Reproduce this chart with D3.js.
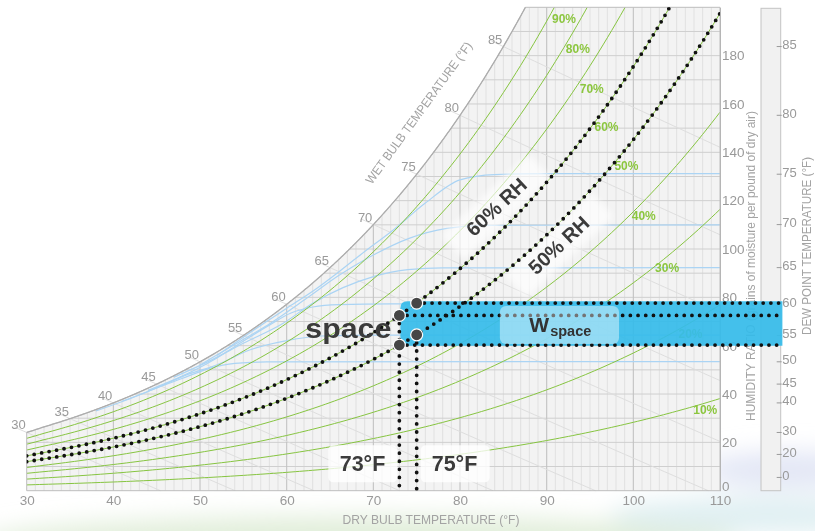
<!DOCTYPE html>
<html>
<head>
<meta charset="utf-8">
<script src="https://cdn.jsdelivr.net/npm/d3@7"></script>
<style>
  html, body { margin: 0; padding: 0; background: #fff; }
  svg { display: block; font-family: "Liberation Sans", Arial, sans-serif; }
</style>
</head>
<body>
<svg id="chart" width="815" height="531"></svg>
<script>
// ---- chart values -------------------------------------------------------
const dryBulbTicks   = [30, 40, 50, 60, 70, 80, 90, 100, 110];
const humidityTicks  = [0, 20, 40, 60, 80, 100, 120, 140, 160, 180];
const wetBulbTicks   = [30, 35, 40, 45, 50, 55, 60, 65, 70, 75, 80, 85];
const dewPointTicks  = [85, 80, 75, 70, 65, 60, 55, 50, 45, 40, 30, 20, 0];
const rhLevels       = [0.1, 0.2, 0.3, 0.4, 0.5, 0.6, 0.7, 0.8, 0.9];
const rhLabelText    = ["10%", "20%", "30%", "40%", "50%", "60%", "70%", "80%", "90%"];
const rhLabelT       = [108.3, 106.6, 103.9, 101.2, 99.2, 96.9, 95.2, 93.6, 92.0];   // °F
const rhLabelW       = [33.5, 65.0, 92.0, 113.8, 134.3, 150.4, 166.1, 182.9, 195.3]; // grains
const highlightRH    = [0.6, 0.5];
const highlightText  = ["60% RH", "50% RH"];
const highlightLabelT = [84.2, 91.4];
const highlightLabelW = [117.4, 101.6];
const spaceTemps     = [73, 75];
const spaceTempText  = ["73°F", "75°F"];
const bandEndT       = [117.2, 116.6, 117.2];   // top, middle, bottom dotted rows
const wBoxT          = [84.6, 98.35];           // W-space label box, °F
// light-blue constant dew point guide curves: [dry bulb °F, grains]
const dewCurve50 = [[38,33],[41.5,37.5],[45,42.5],[48,46.5],[51,50.5],[54,52.7],[58,53.3],[110,53.4]];
const dewCurve55 = [[41,37],[45,42.5],[48.5,48],[51.9,52],[55.8,58.3],[60,62.1],[64,64],[70,64.4],[110,64.4]];
const dewCurve60 = [[44,41.5],[48,47.5],[51.5,54],[54.6,61],[58,68.5],[60.5,73.5],[63,76],[66,77],[72,77.3],[110,77.3]];
const dewCurve65 = [[47,47],[51,53.5],[55,61],[59.6,69.3],[63,77.5],[66.5,84],[70,88.6],[74,91.5],[78,92.2],[110,92.3]];
const dewCurve70 = [[50,52],[54,60.5],[58,69],[62.3,79.6],[66,89],[70,97.5],[74.2,104.5],[78.5,108.5],[83,109.8],[110,110]];
const dewCurve75 = [[52,56],[56,66],[60,75.5],[63,82.5],[66,90.5],[69,99],[72.3,107.9],[76,119],[80,128.6],[84,130.8],[90,131.2],[110,131.2]];
const dewCurves  = [dewCurve50, dewCurve55, dewCurve60, dewCurve65, dewCurve70, dewCurve75];

// ---- psychrometrics (sea level) ----------------------------------------
const P_ATM = 101.325; // kPa
function pws(tF) {
  const c = (tF - 32) / 1.8;
  return c >= 0 ? 0.61094 * Math.exp(17.625 * c / (c + 243.04))
                : 0.61115 * Math.exp(22.452 * c / (c + 272.55));
}
const grains = pw => 7000 * 0.622 * pw / (P_ATM - pw);
const wRH = (t, rh) => grains(rh * pws(t));
const wSat = t => wRH(t, 1);
function wWetBulb(t, twb) {
  const ws = wSat(twb) / 7000;
  return 7000 * ((1093 - 0.556 * twb) * ws - 0.240 * (t - twb)) / (1093 + 0.444 * t - twb);
}

// ---- scales --------------------------------------------------------------
const W_MAX = 200;
const x = d3.scaleLinear().domain([30, 110]).range([26.7, 720]);
const y = d3.scaleLinear().domain([0, W_MAX]).range([490.7, 7.3]);
const line = d3.line().x(d => x(d[0])).y(d => y(d[1]));
const smooth = d3.line().x(d => x(d[0])).y(d => y(d[1])).curve(d3.curveMonotoneX);

// temperature where the saturation curve reaches the top of the chart
let lo = 30, hi = 110;
for (let i = 0; i < 60; i++) { const m = (lo + hi) / 2; if (wSat(m) < W_MAX) lo = m; else hi = m; }
const tTop = lo;
const satPts = d3.range(30, tTop, 0.1).map(t => [t, wSat(t)]).concat([[tTop, W_MAX]]);
const outline = [[30, 0]].concat(satPts, [[110, W_MAX], [110, 0]]);

const svg = d3.select("#chart");
const defs = svg.append("defs");
defs.append("clipPath").attr("id", "plotClip")
  .append("path").attr("d", line(outline) + "Z");
const soft = defs.append("filter").attr("id", "soft")
  .attr("x", "-50%").attr("y", "-50%").attr("width", "200%").attr("height", "200%");
soft.append("feGaussianBlur").attr("stdDeviation", 12);
const glow = defs.append("filter").attr("id", "glow")
  .attr("x", "-30%").attr("y", "-30%").attr("width", "160%").attr("height", "160%");
glow.append("feGaussianBlur").attr("stdDeviation", 3);

// soft backdrop wash along the bottom edge
const wash = svg.append("g").attr("filter", "url(#soft)");
wash.append("ellipse").attr("cx", 360).attr("cy", 542).attr("rx", 380).attr("ry", 26)
  .attr("fill", "#dcebd3").attr("opacity", 0.85);
wash.append("ellipse").attr("cx", 790).attr("cy", 470).attr("rx", 90).attr("ry", 18)
  .attr("fill", "#dfe3f4").attr("opacity", 0.9);
wash.append("ellipse").attr("cx", 760).attr("cy", 515).attr("rx", 150).attr("ry", 18)
  .attr("fill", "#dcedf1").attr("opacity", 0.9);

// ---- plot body -----------------------------------------------------------
const g = svg.append("g");
g.append("path").attr("d", line(outline) + "Z").attr("fill", "#f3f3f3");

const grid = g.append("g").attr("clip-path", "url(#plotClip)");
d3.range(31, 110, 1).filter(t => t % 10 !== 0).forEach(t => {
  grid.append("line").attr("x1", x(t)).attr("x2", x(t)).attr("y1", y(0)).attr("y2", y(W_MAX))
    .attr("stroke", "#dcdcdc").attr("stroke-width", 0.8);
});
d3.range(10, W_MAX, 10).forEach(w => {
  grid.append("line").attr("x1", x(30)).attr("x2", x(110)).attr("y1", y(w)).attr("y2", y(w))
    .attr("stroke", "#cfcfcf").attr("stroke-width", 1);
});
dryBulbTicks.slice(1, -1).forEach(t => {
  grid.append("line").attr("x1", x(t)).attr("x2", x(t)).attr("y1", y(0)).attr("y2", y(W_MAX))
    .attr("stroke", "#c2c2c2").attr("stroke-width", 1.1);
});

// wet bulb lines
wetBulbTicks.forEach(twb => {
  const ws = wSat(twb) / 7000;
  const tZero = twb + (1093 - 0.556 * twb) * ws / 0.240;
  const tEnd = Math.min(110, tZero);
  const pts = d3.range(twb - 1.4, tEnd, 0.5).map(t => [t, wWetBulb(t, twb)]);
  pts.push([tEnd, wWetBulb(tEnd, twb)]);
  g.append("path").attr("d", line(pts)).attr("fill", "none")
    .attr("stroke", "#dedede").attr("stroke-width", 1);
});

// dew point guide curves
const blue = g.append("g").attr("clip-path", "url(#plotClip)");
dewCurves.forEach(c => {
  blue.append("path").attr("d", smooth(c)).attr("fill", "none")
    .attr("stroke", "#abd4f4").attr("stroke-width", 1.2);
});

// relative humidity lines
const rhG = g.append("g").attr("clip-path", "url(#plotClip)");
rhLevels.forEach(rh => {
  const pts = d3.range(30, 110.01, 0.5).map(t => [t, wRH(t, rh)]);
  rhG.append("path").attr("d", line(pts)).attr("fill", "none")
    .attr("stroke", "#86c440").attr("stroke-width", 1);
});

// outline and saturation curve
g.append("path").attr("d", line(outline) + "Z").attr("fill", "none")
  .attr("stroke", "#bdbdbd").attr("stroke-width", 1);
g.append("path").attr("d", line(satPts)).attr("fill", "none")
  .attr("stroke", "#adadad").attr("stroke-width", 1.3);

// RH labels
rhLevels.forEach((rh, i) => {
  g.append("text").attr("x", x(rhLabelT[i])).attr("y", y(rhLabelW[i]))
    .attr("text-anchor", "middle").attr("dominant-baseline", "central")
    .attr("font-size", 12).attr("font-weight", "bold").attr("fill", "#8cc63f")
    .text(rhLabelText[i]);
});

// wet bulb numbers along the saturation curve
wetBulbTicks.forEach(t => {
  g.append("text").attr("x", x(t) - 1).attr("y", y(wSat(t)) - 7.5)
    .attr("text-anchor", "end").attr("dominant-baseline", "central")
    .attr("font-size", 13).attr("fill", "#9a9a9a").text(t);
});

// axes
const xAxis = g.append("g").attr("transform", `translate(0,${y(0)})`)
  .call(d3.axisBottom(x).tickValues(dryBulbTicks).tickSize(0).tickPadding(5));
xAxis.select(".domain").remove();
xAxis.selectAll("text").attr("font-size", 13.5).attr("fill", "#999")
  .attr("font-family", "Liberation Sans, Arial, sans-serif");

const yAxis = g.append("g").attr("transform", `translate(${x(110)},0)`)
  .call(d3.axisRight(y).tickValues(humidityTicks).tickSize(0).tickPadding(2));
yAxis.select(".domain").attr("stroke", "#b5b5b5");
yAxis.selectAll("text").attr("font-size", 13.5).attr("fill", "#999")
  .attr("font-family", "Liberation Sans, Arial, sans-serif")
  .attr("dy", d => d === 0 ? "-0.05em" : "0.32em");

// dew point scale
const dpLeft = 761, dpRight = 780.7;
g.append("rect").attr("x", dpLeft).attr("y", y(W_MAX) + 1).attr("width", dpRight - dpLeft)
  .attr("height", y(0) - y(W_MAX) - 1).attr("fill", "#f1f1f1").attr("stroke", "#c4c4c4");
dewPointTicks.forEach(dp => {
  const yy = y(wSat(dp));
  g.append("line").attr("x1", dpRight - 4).attr("x2", dpRight + 1).attr("y1", yy).attr("y2", yy)
    .attr("stroke", "#9a9a9a");
  g.append("text").attr("x", dpRight + 1.5).attr("y", yy - 2).attr("dominant-baseline", "central")
    .attr("font-size", 13).attr("fill", "#999").text(dp);
});

// titles
g.append("text").attr("x", 431).attr("y", 519).attr("text-anchor", "middle")
  .attr("dominant-baseline", "central").attr("font-size", 13).attr("fill", "#a3a3a3")
  .attr("textLength", 177).attr("lengthAdjust", "spacingAndGlyphs")
  .text("DRY BULB TEMPERATURE (°F)");
g.append("text").attr("transform", "translate(419,113) rotate(-54)").attr("text-anchor", "middle")
  .attr("dominant-baseline", "central").attr("font-size", 12.5).attr("fill", "#a3a3a3")
  .attr("textLength", 172).attr("lengthAdjust", "spacingAndGlyphs")
  .text("WET BULB TEMPERATURE (°F)");
g.append("text").attr("transform", "translate(750,266) rotate(-90)").attr("text-anchor", "middle")
  .attr("dominant-baseline", "central").attr("font-size", 13).attr("fill", "#a3a3a3")
  .attr("textLength", 310).attr("lengthAdjust", "spacingAndGlyphs")
  .text("HUMIDITY RATIO (grains of moisture per pound of dry air)");
g.append("text").attr("transform", "translate(806,246) rotate(-90)").attr("text-anchor", "middle")
  .attr("dominant-baseline", "central").attr("font-size", 13).attr("fill", "#a3a3a3")
  .attr("textLength", 178).attr("lengthAdjust", "spacingAndGlyphs")
  .text("DEW POINT TEMPERATURE (°F)");

// ---- space design band ---------------------------------------------------
const wTop = wRH(spaceTemps[1], highlightRH[0]);
const wMid = wRH(spaceTemps[0], highlightRH[0]);
const wBot = wRH(spaceTemps[0], highlightRH[1]);
const w75b = wRH(spaceTemps[1], highlightRH[1]);
const bx0 = x(spaceTemps[0]) + 1, bx1 = x(bandEndT[0]);
const by0 = y(wTop) - 1.7, by1 = y(wBot) + 0.6, r = 7;
g.append("path")
  .attr("d", `M${bx0 + r},${by0}H${bx1}V${by1}H${bx0 + r}Q${bx0},${by1} ${bx0},${by1 - r}V${by0 + r}Q${bx0},${by0} ${bx0 + r},${by0}Z`)
  .attr("fill", "#36bbea").attr("opacity", 0.93);

// label backdrops for the highlighted RH curves
highlightRH.forEach((rh, i) => {
  g.append("rect").attr("x", -60).attr("y", -17).attr("width", 120).attr("height", 34).attr("rx", 5)
    .attr("transform", `translate(${x(highlightLabelT[i])},${y(highlightLabelW[i])}) rotate(-43)`)
    .attr("fill", "#fff").attr("opacity", 0.65).attr("filter", "url(#glow)");
});

// highlighted RH curves drawn as dots
const dotG = g.append("g").attr("clip-path", "url(#plotClip)");
highlightRH.forEach(rh => {
  const pts = d3.range(30, 110.01, 0.25).map(t => [t, wRH(t, rh)]).filter(d => d[1] <= W_MAX + 3);
  dotG.append("path").attr("d", line(pts)).attr("fill", "none")
    .attr("stroke", "#111").attr("stroke-width", 3.8).attr("stroke-linecap", "round")
    .attr("stroke-dasharray", "0 7.6");
});

// dotted rows across the band and verticals to the dry bulb axis
const dotted = sel => sel.attr("fill", "none").attr("stroke", "#111").attr("stroke-width", 3.8)
  .attr("stroke-linecap", "round").attr("stroke-dasharray", "0 7.7");
[[spaceTemps[1], wTop, bandEndT[0]], [spaceTemps[0], wMid, bandEndT[1]], [spaceTemps[0], wBot, bandEndT[2]]]
  .forEach(([t0, w, t1]) => {
    g.append("line").attr("x1", x(t0)).attr("x2", x(t1)).attr("y1", y(w)).attr("y2", y(w)).call(dotted);
  });
g.append("line").attr("x1", x(spaceTemps[0])).attr("x2", x(spaceTemps[0]))
  .attr("y1", y(wMid)).attr("y2", y(0)).call(dotted).attr("stroke-dasharray", "0 8.1");
g.append("line").attr("x1", x(spaceTemps[1])).attr("x2", x(spaceTemps[1]))
  .attr("y1", y(w75b)).attr("y2", y(0)).call(dotted).attr("stroke-dasharray", "0 8.1");

// W space label box
g.append("rect").attr("x", x(wBoxT[0])).attr("y", y(wTop) + 3).attr("width", x(wBoxT[1]) - x(wBoxT[0]))
  .attr("height", y(wBot) - y(wTop) - 4).attr("rx", 6).attr("fill", "#fff").attr("opacity", 0.42);
const wLabel = g.append("text").attr("x", x(88.0)).attr("y", y(wBot) - 13)
  .attr("font-weight", "bold").attr("fill", "#333");
wLabel.append("tspan").attr("font-size", 21).text("W");
wLabel.append("tspan").attr("font-size", 14.5).attr("dy", 4).attr("dx", 1).text("space");

// state points
[[spaceTemps[1], wTop], [spaceTemps[0], wMid], [spaceTemps[1], w75b], [spaceTemps[0], wBot]]
  .forEach(([t, w]) => {
    g.append("circle").attr("cx", x(t)).attr("cy", y(w)).attr("r", 6)
      .attr("fill", "#464646").attr("stroke", "#fff").attr("stroke-width", 1.2);
  });

g.append("text").attr("x", x(spaceTemps[0]) - 8).attr("y", (y(wMid) + y(wBot)) / 2 + 8)
  .attr("text-anchor", "end").attr("font-size", 27).attr("font-weight", "bold").attr("fill", "#3b3b3b")
  .attr("textLength", 86).attr("lengthAdjust", "spacingAndGlyphs").text("space");

// rotated RH callouts
highlightRH.forEach((rh, i) => {
  g.append("text")
    .attr("transform", `translate(${x(highlightLabelT[i])},${y(highlightLabelW[i])}) rotate(-43)`)
    .attr("text-anchor", "middle").attr("dominant-baseline", "central")
    .attr("font-size", 20).attr("font-weight", "bold").attr("fill", "#3b3b3b")
    .text(highlightText[i]);
});

// dry bulb callouts
const tagY = y(8);
[[spaceTemps[0], "end", -14], [spaceTemps[1], "start", 15]].forEach(([t, anchor, dx], i) => {
  const tx = x(t) + dx;
  const bw = 69;
  const left = anchor === "end" ? tx - bw + 12 : tx - 11;
  g.append("rect").attr("x", left).attr("y", tagY - 26).attr("width", bw).attr("height", 37)
    .attr("rx", 5).attr("fill", "#fff").attr("opacity", 0.78);
  g.append("text").attr("x", tx).attr("y", tagY).attr("text-anchor", anchor)
    .attr("font-size", 21.5).attr("font-weight", "bold").attr("fill", "#3b3b3b")
    .text(spaceTempText[i]);
});
</script>
</body>
</html>
